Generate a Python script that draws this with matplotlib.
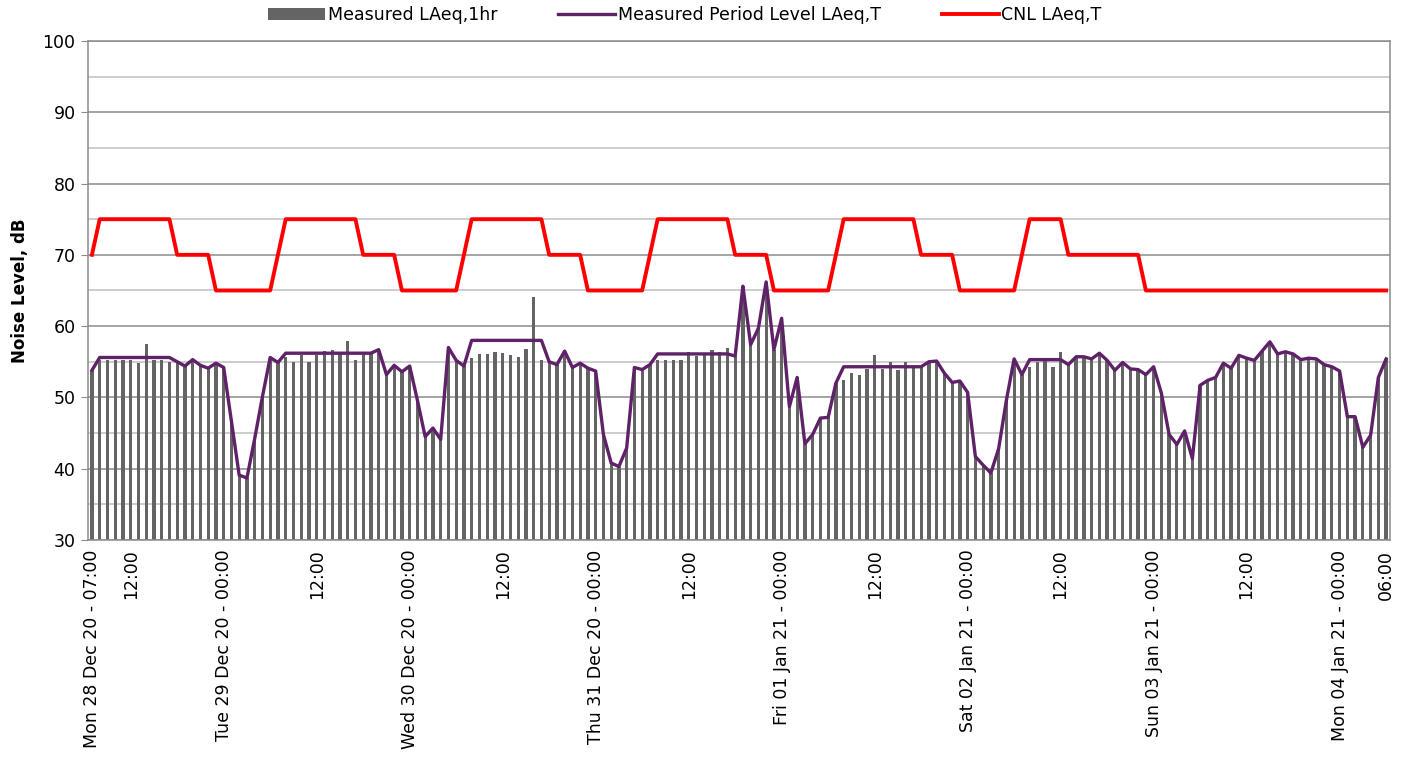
import numpy as np
import matplotlib
matplotlib.use("Agg")
import matplotlib.pyplot as plt

# hourly data, Mon 28 Dec 20 07:00 -> Mon 04 Jan 21 06:00 (168 hours)
measured_1hr = [
    # Mon 28 Dec 07:00-23:00
    53.8, 55.2, 55.2, 55.2, 55.2, 55.2, 54.8, 57.5, 55.2, 55.2, 54.9,
    55.0, 54.4, 55.3, 54.5, 54.1, 54.8,
    # Tue 29 Dec
    54.2, 46.7, 39.1, 38.7, 44.2, 50.1, 55.6, 54.9,
    55.6, 55.0, 55.9, 55.0, 55.9, 56.5, 56.7, 56.1, 57.9, 55.2,
    56.2, 56.2, 56.7, 53.2, 54.5, 53.6,
    # Wed 30 Dec
    54.4, 49.6, 44.5, 45.7, 44.1, 57.0, 55.2, 54.4,
    55.5, 56.1, 56.1, 56.3, 56.2, 55.9, 55.7, 56.8, 64.1, 55.3,
    55.0, 54.6, 56.5, 54.2, 54.8, 54.1,
    # Thu 31 Dec
    53.7, 44.8, 40.8, 40.3, 42.9, 54.2, 53.9, 54.6,
    55.3, 55.3, 55.3, 55.3, 56.3, 55.8, 56.0, 56.6, 56.3, 57.0,
    55.8, 65.6, 57.4, 59.7, 66.2, 56.7,
    # Fri 01 Jan
    61.1, 48.7, 52.8, 43.5, 44.8, 47.1, 47.2, 52.0,
    52.5, 53.4, 53.1, 54.0, 55.9, 54.0, 55.0, 53.8, 54.9, 54.3,
    54.3, 55.0, 55.1, 53.4, 52.1, 52.3,
    # Sat 02 Jan
    50.7, 41.7, 40.5, 39.4, 42.8, 49.6, 55.4, 53.2,
    54.3, 55.0, 55.1, 54.3, 56.3,
    54.6, 55.7, 55.7, 55.4, 56.2, 55.2, 53.8, 54.9, 54.0, 53.9, 53.2,
    # Sun 03 Jan
    54.3, 50.6, 44.8, 43.4, 45.3, 41.4, 51.7, 52.4,
    52.8, 54.8, 54.1, 55.9, 55.5, 55.2, 56.5, 57.8, 56.1, 56.4,
    56.1, 55.3, 55.5, 55.4, 54.6, 54.3,
    # Mon 04 Jan 00:00-06:00
    53.7, 47.3, 47.3, 43.0, 44.7, 52.8, 55.4,
]

period_level = [
    # Mon 28 Dec 07:00-23:00
    53.8, 55.6, 55.6, 55.6, 55.6, 55.6, 55.6, 55.6, 55.6, 55.6, 55.6,
    55.0, 54.4, 55.3, 54.5, 54.1, 54.8,
    # Tue 29 Dec
    54.2, 46.7, 39.1, 38.7, 44.2, 50.1, 55.6, 54.9,
    56.2, 56.2, 56.2, 56.2, 56.2, 56.2, 56.2, 56.2, 56.2, 56.2,
    56.2, 56.2, 56.7, 53.2, 54.5, 53.6,
    # Wed 30 Dec
    54.4, 49.6, 44.5, 45.7, 44.1, 57.0, 55.2, 54.4,
    58.0, 58.0, 58.0, 58.0, 58.0, 58.0, 58.0, 58.0, 58.0, 58.0,
    55.0, 54.6, 56.5, 54.2, 54.8, 54.1,
    # Thu 31 Dec
    53.7, 44.8, 40.8, 40.3, 42.9, 54.2, 53.9, 54.6,
    56.1, 56.1, 56.1, 56.1, 56.1, 56.1, 56.1, 56.1, 56.1, 56.1,
    55.8, 65.6, 57.4, 59.7, 66.2, 56.7,
    # Fri 01 Jan
    61.1, 48.7, 52.8, 43.5, 44.8, 47.1, 47.2, 52.0,
    54.3, 54.3, 54.3, 54.3, 54.3, 54.3, 54.3, 54.3, 54.3, 54.3,
    54.3, 55.0, 55.1, 53.4, 52.1, 52.3,
    # Sat 02 Jan
    50.7, 41.7, 40.5, 39.4, 42.8, 49.6, 55.4, 53.2,
    55.3, 55.3, 55.3, 55.3, 55.3,
    54.6, 55.7, 55.7, 55.4, 56.2, 55.2, 53.8, 54.9, 54.0, 53.9, 53.2,
    # Sun 03 Jan
    54.3, 50.6, 44.8, 43.4, 45.3, 41.4, 51.7, 52.4,
    52.8, 54.8, 54.1, 55.9, 55.5, 55.2, 56.5, 57.8, 56.1, 56.4,
    56.1, 55.3, 55.5, 55.4, 54.6, 54.3,
    # Mon 04 Jan 00:00-06:00
    53.7, 47.3, 47.3, 43.0, 44.7, 52.8, 55.4,
]

cnl_level = [
    # Mon 28 Dec 07:00-23:00
    70, 75, 75, 75, 75, 75, 75, 75, 75, 75, 75, 70, 70, 70, 70, 70, 65,
    # Tue 29 Dec
    65, 65, 65, 65, 65, 65, 65, 70, 75, 75, 75, 75, 75, 75, 75, 75, 75, 75,
    70, 70, 70, 70, 70, 65,
    # Wed 30 Dec
    65, 65, 65, 65, 65, 65, 65, 70, 75, 75, 75, 75, 75, 75, 75, 75, 75, 75,
    70, 70, 70, 70, 70, 65,
    # Thu 31 Dec
    65, 65, 65, 65, 65, 65, 65, 70, 75, 75, 75, 75, 75, 75, 75, 75, 75, 75,
    70, 70, 70, 70, 70, 65,
    # Fri 01 Jan
    65, 65, 65, 65, 65, 65, 65, 70, 75, 75, 75, 75, 75, 75, 75, 75, 75, 75,
    70, 70, 70, 70, 70, 65,
    # Sat 02 Jan
    65, 65, 65, 65, 65, 65, 65, 70, 75, 75, 75, 75, 75, 70, 70, 70, 70, 70,
    70, 70, 70, 70, 70, 65,
    # Sun 03 Jan
    65, 65, 65, 65, 65, 65, 65, 65, 65, 65, 65, 65, 65, 65, 65, 65, 65, 65,
    65, 65, 65, 65, 65, 65,
    # Mon 04 Jan 00:00-06:00
    65, 65, 65, 65, 65, 65, 65,
]

tick_hours = [0, 5, 17, 29, 41, 53, 65, 77, 89, 101, 113, 125, 137, 149, 161, 167]
tick_labels = ["Mon 28 Dec 20 - 07:00", "12:00",
               "Tue 29 Dec 20 - 00:00", "12:00",
               "Wed 30 Dec 20 - 00:00", "12:00",
               "Thu 31 Dec 20 - 00:00", "12:00",
               "Fri 01 Jan 21 - 00:00", "12:00",
               "Sat 02 Jan 21 - 00:00", "12:00",
               "Sun 03 Jan 21 - 00:00", "12:00",
               "Mon 04 Jan 21 - 00:00", "06:00"]

plt.rcParams['font.family'] = ['DejaVu Sans']

fig = plt.figure(figsize=(14.09, 7.63), dpi=100)
ax = fig.add_axes([0.0625, 0.2923, 0.924, 0.654])

x = np.arange(len(measured_1hr))
b = ax.bar(x, measured_1hr, width=0.42, color='#646464', label='Measured LAeq,1hr', zorder=2)
l1, = ax.plot(x, period_level, color='#5F2167', lw=2.4, label='Measured Period Level LAeq,T', zorder=3)
l2, = ax.plot(x, cnl_level, color='#FF0000', lw=2.8, label='CNL LAeq,T', zorder=4)

ax.set_xlim(-0.5, len(x) - 0.5)
ax.set_ylim(30, 100)
ax.set_yticks(np.arange(30, 101, 10))
ax.set_yticks(np.arange(35, 100, 10), minor=True)
ax.grid(which='major', axis='y', color='#8c8c8c', lw=1.1)
ax.grid(which='minor', axis='y', color='#c0c0c0', lw=1.1)
ax.set_axisbelow(True)

ax.set_xticks(tick_hours)
ax.set_xticklabels(tick_labels, rotation=90, fontsize=12.5, va='top', ha='center')
ax.tick_params(axis='x', length=0, pad=7)
ax.tick_params(axis='y', which='major', length=5, color='#8c8c8c', labelsize=12.5, pad=4)
ax.tick_params(axis='y', which='minor', length=0)

for s in ax.spines.values():
    s.set_color('#8c8c8c')
    s.set_linewidth(1.1)

ax.set_ylabel('Noise Level, dB', fontsize=12, fontweight='bold', labelpad=10)

ax.legend(handles=[b, l1, l2], loc='center left', bbox_to_anchor=(0.138, 1.052), ncol=3,
          frameon=False, fontsize=12.5, handlelength=3.3, handletextpad=0.15,
          columnspacing=3.5, borderaxespad=0.0, borderpad=0.0)

fig.savefig('out.png', dpi=100)
